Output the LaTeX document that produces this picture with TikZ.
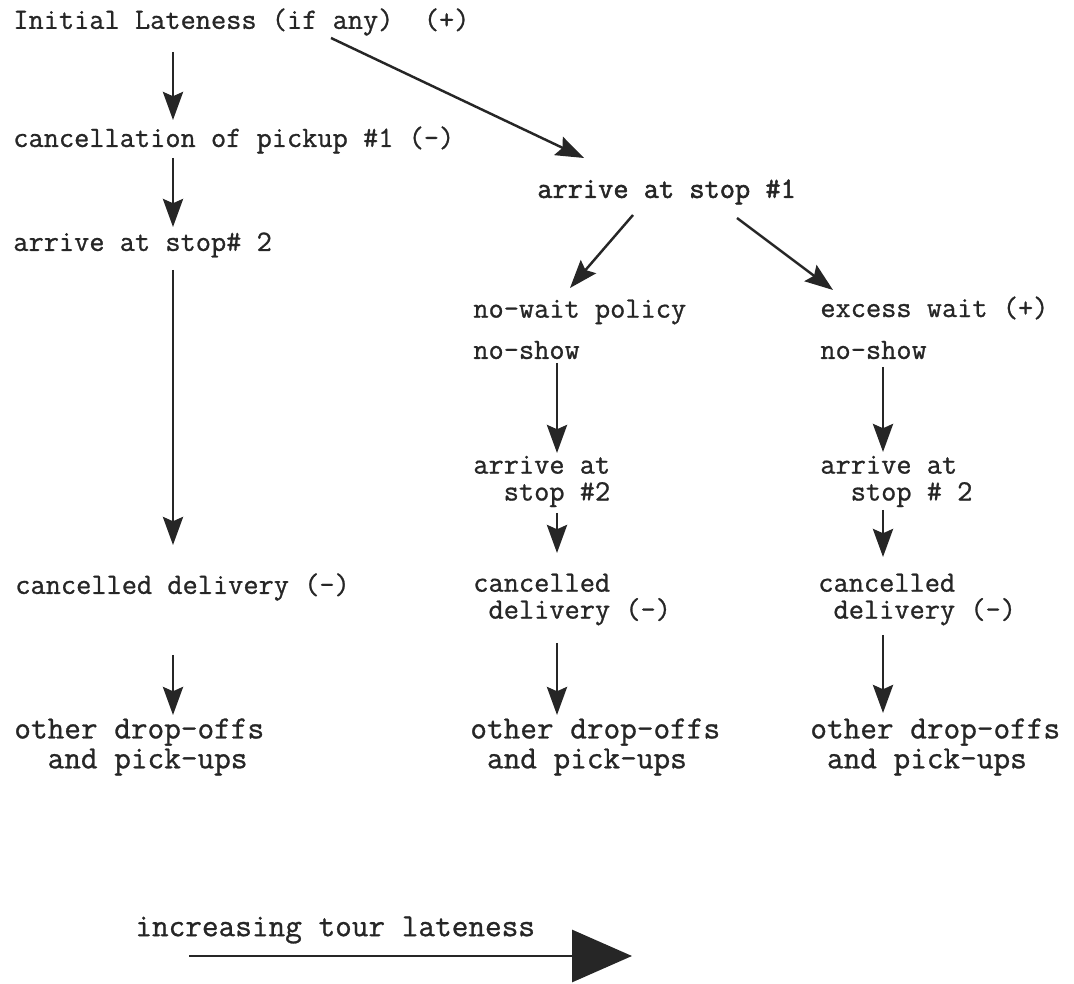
\documentclass[tikz,border=0pt]{standalone}
\usepackage{fontspec}
\newfontfamily\typed[AutoFakeBold=0.9]{Latin Modern Mono}
\newfontfamily\typedheavy[AutoFakeBold=1.8]{Latin Modern Mono}
\usetikzlibrary{arrows.meta}

\begin{document}
\begin{tikzpicture}[
  flow/.style={-{Stealth[length=16pt,width=11.5pt,inset=2.5pt]},line width=1.4pt,draw=black!85},
  trend/.style={-{Triangle[length=1.2cm,width=1.04cm]},line width=1.7pt,draw=black!85},
  step node/.style={anchor=west,inner sep=0pt,align=left,text=black!85,
    font=\typed\bfseries\fontsize{16.8}{15.3}\selectfont},
  end node/.style={step node,font=\typed\bfseries\fontsize{18.4}{17}\selectfont}]
  \useasboundingbox (0,0) rectangle (21.48,19.66);

  % columns the vertical arrows run down
  \coordinate (colL) at (3.46,0);
  \coordinate (colM) at (11.14,0);
  \coordinate (colR) at (17.66,0);

  % left branch
  \node[step node] (init)    at (0.26,19.22) {Initial Lateness (if any)\ \ (+)};
  \node[step node] (cancel1) at (0.26,16.86) {cancellation of pickup \#1 (-)};
  \node[step node] (stop2L)  at (0.26,14.76) {arrive at stop\# 2};
  \node[step node] (cdelL)   at (0.30,7.92)  {cancelled delivery (-)};
  \node[end node]  (otherL)  at (0.28,4.72)  {other drop-offs\\\phantom{xx}and pick-ups};

  % first stop
  \node[step node,font=\typedheavy\bfseries\fontsize{16.8}{15.3}\selectfont] (stop1) at (10.74,15.82) {arrive at stop \#1};

  % no-wait branch
  \node[step node] (nowait)  at (9.46,13.42) {no-wait policy};
  \node[step node] (noshowM) at (9.46,12.66) {no-show};
  \node[step node] (stop2M)  at (9.46,10.03) {arrive at\\\phantom{xx}stop \#2};
  \node[step node] (cdelM)   at (9.46,7.67)  {cancelled\\\phantom{x}delivery (-)};
  \node[end node]  (otherM)  at (9.40,4.72)  {other drop-offs\\\phantom{x}and pick-ups};

  % waiting branch
  \node[step node] (excess)  at (16.40,13.50) {excess wait (+)};
  \node[step node] (noshowR) at (16.40,12.66) {no-show};
  \node[step node] (stop2R)  at (16.40,10.03) {arrive at\\\phantom{xx}stop \# 2};
  \node[step node] (cdelR)   at (16.36,7.67)  {cancelled\\\phantom{x}delivery (-)};
  \node[end node]  (otherR)  at (16.20,4.72)  {other drop-offs\\\phantom{x}and pick-ups};

  \node[end node] (late) at (2.70,1.06) {increasing tour lateness};
  \coordinate (trendA) at (3.78,0.54);
  \coordinate (trendB) at (12.64,0.54);

  \draw[flow,shorten <=0.6cm,shorten >=0.4cm]   (init -| colL)    -- (cancel1 -| colL);
  \draw[flow,shorten <=0.36cm,shorten >=0.36cm] (cancel1 -| colL) -- (stop2L -| colL);
  \draw[flow,shorten <=0.5cm,shorten >=0.84cm]  (stop2L -| colL)  -- (cdelL -| colL);
  \draw[flow,shorten <=1.36cm,shorten >=0.64cm] (cdelL -| colL)   -- (otherL -| colL);

  \draw[flow] ([shift={(6.36,-0.32)}]init.west) -- ([shift={(0.94,0.68)}]stop1.west);
  \draw[flow] ([shift={(1.92,-0.46)}]stop1.west) -- ([shift={(1.94,0.48)}]nowait.west);
  \draw[flow] ([shift={(4.0,-0.52)}]stop1.west) -- ([shift={(0.26,0.36)}]excess.west);

  \draw[flow,shorten <=0.26cm,shorten >=0.57cm] (noshowM -| colM) -- (stop2M -| colM);
  \draw[flow,shorten <=0.63cm,shorten >=0.93cm] (stop2M -| colM)  -- (cdelM -| colM);
  \draw[flow,shorten <=0.87cm,shorten >=0.64cm] (cdelM -| colM)   -- (otherM -| colM);

  \draw[flow,shorten <=0.34cm,shorten >=0.59cm] (noshowR -| colR) -- (stop2R -| colR);
  \draw[flow,shorten <=0.57cm,shorten >=0.85cm] (stop2R -| colR)  -- (cdelR -| colR);
  \draw[flow,shorten <=0.71cm,shorten >=0.68cm] (cdelR -| colR)   -- (otherR -| colR);

  \draw[trend] (trendA) -- (trendB);
\end{tikzpicture}
\end{document}
